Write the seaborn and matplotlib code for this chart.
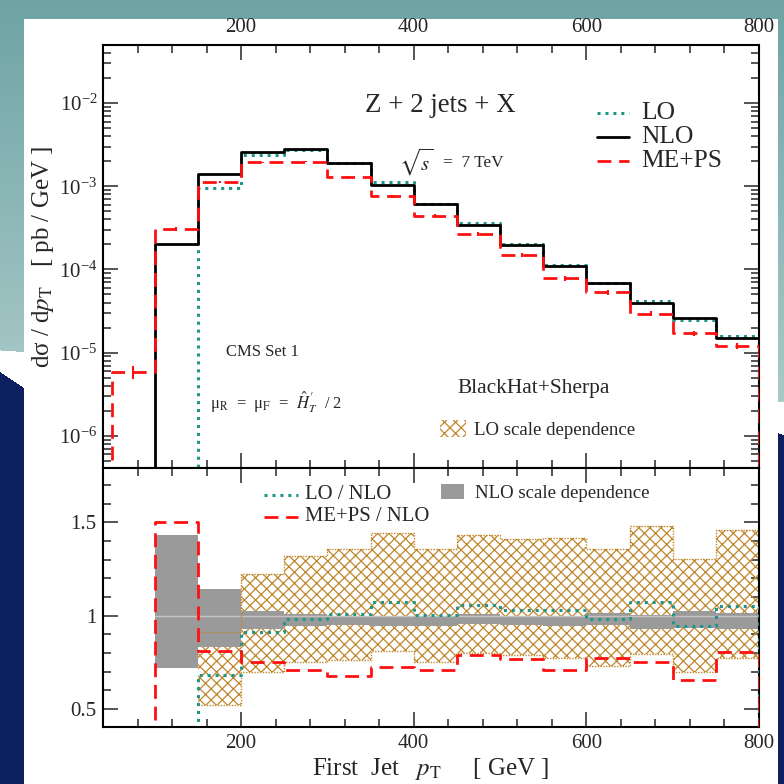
import numpy as np
import matplotlib
matplotlib.use("Agg")
import matplotlib.pyplot as plt
import seaborn as sns
from matplotlib.lines import Line2D
from matplotlib.patches import Patch
from matplotlib.ticker import MultipleLocator, LogLocator, NullFormatter, FormatStrFormatter

# ---------------- data ----------------
bin_edges = [50, 100, 150, 200, 250, 300, 350, 400, 450, 500, 550, 600, 650, 700, 750, 800]
nlo = [0.0, 2.03e-4, 1.39e-3, 2.58e-3, 2.80e-3, 1.90e-3, 1.05e-3, 6.20e-4, 3.39e-4,
       1.95e-4, 1.10e-4, 6.90e-5, 3.92e-5, 2.59e-5, 1.50e-5]
lo = [0.0, 0.0, 9.45e-4, 2.354e-3, 2.755e-3, 1.921e-3, 1.125e-3, 6.21e-4, 3.58e-4,
      2.01e-4, 1.135e-4, 6.78e-5, 4.21e-5, 2.45e-5, 1.575e-5]
meps = [5.8e-6, 3.05e-4, 1.13e-3, 1.94e-3, 1.98e-3, 1.29e-3, 7.63e-4, 4.41e-4, 2.68e-4,
        1.50e-4, 7.82e-5, 5.35e-5, 2.94e-5, 1.70e-5, 1.21e-5]
meps_relerr = [0.18, 0.06, 0.03, 0.02, 0.02, 0.03, 0.04, 0.04, 0.05, 0.05, 0.06, 0.07,
               0.07, 0.08, 0.09]
# LO scale band (ratio to NLO), bins 150..800
lo_band_low = [0.523, 0.698, 0.750, 0.760, 0.809, 0.750, 0.800, 0.791, 0.773, 0.729,
               0.796, 0.698, 0.773]
lo_band_high = [0.910, 1.223, 1.321, 1.359, 1.443, 1.359, 1.434, 1.412, 1.416, 1.354,
                1.479, 1.305, 1.457]
# NLO scale band (ratio to NLO), bins 100..800
nlo_band_low = [0.72, 0.83, 0.929, 0.943, 0.950, 0.943, 0.946, 0.957, 0.952, 0.946,
                0.952, 0.929, 0.934, 0.929]
nlo_band_high = [1.43, 1.145, 1.025, 1.009, 1.000, 1.000, 0.998, 1.007, 1.000, 0.998,
                 1.014, 1.005, 1.023, 1.014]

top_labels = ["LO", "NLO", "ME+PS"]
ratio_labels = ["LO / NLO", "ME+PS / NLO"]

# ---------------- style ----------------
sns.set_style("ticks")
plt.rcParams["font.family"] = ["Liberation Serif", "DejaVu Serif"]
plt.rcParams["mathtext.fontset"] = "stix"
plt.rcParams["hatch.linewidth"] = 0.9
GOLD = "#bf872c"
TEAL = "#1f968b"
RED = "#ff1010"
GREY = "#9a9a9a"
HATCH = "xxx"
plt.rcParams["hatch.color"] = GOLD
LO_STYLE = dict(color=TEAL, linewidth=2.2, linestyle=(0, (1.0, 1.6)))
NLO_STYLE = dict(color="black", linewidth=2.0, linestyle="-")
ME_STYLE = dict(color=RED, linewidth=2.0, linestyle=(0, (5, 2.8)))

edges = np.array(bin_edges, float)
centers = 0.5 * (edges[:-1] + edges[1:])
nlo_a = np.array(nlo)
lo_a = np.array(lo)
meps_a = np.array(meps)

fig = plt.figure(figsize=(7.84, 7.84), dpi=100)
fig.patch.set_facecolor("white")

# ---------------- slide-like background ----------------
H = W = 784
yy, xx = np.mgrid[0:H, 0:W].astype(float)
t = np.clip(yy / 400.0, 0, 1)[..., None]
teal_bg = (1 - t) * np.array([110, 164, 164]) + t * np.array([170, 201, 201])
bg = np.full((H, W, 3), 255.0)
teal_bottom = 350 + 52 * xx / 784
navy_top = np.where(xx < 392, 372 + 16 * xx / 24, 433 + (xx - 778) / 3)
mask_t = yy < teal_bottom
bg[mask_t] = teal_bg[mask_t]
bg[yy >= navy_top] = np.array([12, 32, 96])
bg[19:, 24:778] = 255
fig.figimage(bg.astype(np.uint8), xo=0, yo=0, origin="upper", zorder=-10)

ax1 = fig.add_axes([103 / 784, 1 - 468 / 784, 656 / 784, 423 / 784])
ax2 = fig.add_axes([103 / 784, 1 - 727 / 784, 656 / 784, 259 / 784])
for ax in (ax1, ax2):
    ax.set_zorder(5)
    ax.set_facecolor("white")
    for s in ax.spines.values():
        s.set_linewidth(1.5)
        s.set_color("black")


def step_xy(vals):
    x = np.r_[edges[0], edges]
    y = np.r_[0.0, vals, 0.0]
    return x, y


def manual_legend(ax, labels, styles, x0, x1, xt, ys, fontsize):
    for lab, st, yv in zip(labels, styles, ys):
        ax.add_line(Line2D([x0, x1], [yv, yv], transform=ax.transAxes,
                           clip_on=False, **st))
        ax.text(xt, yv, lab, transform=ax.transAxes, fontsize=fontsize,
                ha="left", va="center")


# ---------------- top panel ----------------
for vals, st, z in ((lo_a, LO_STYLE, 3), (nlo_a, NLO_STYLE, 4), (meps_a, ME_STYLE, 5)):
    x, y = step_xy(vals)
    sns.lineplot(x=x, y=y, ax=ax1, estimator=None, sort=False,
                 drawstyle="steps-post", zorder=z, **st)
ax1.set_yscale("log", nonpositive="clip")
ax1.errorbar(centers, meps_a, yerr=meps_a * np.array(meps_relerr), fmt="none",
             ecolor=RED, elinewidth=1.5, capsize=0, zorder=5)
ax1.set_xlim(40, 800)
ax1.set_ylim(4.1e-7, 5.0e-2)
ax1.set_xlabel("")
ax1.set_ylabel("dσ / d$p_{\\rm T}$   [ pb / GeV ]", fontsize=18, labelpad=2)

ax1.xaxis.set_major_locator(MultipleLocator(200))
ax1.xaxis.set_minor_locator(MultipleLocator(40))
ax1.yaxis.set_major_locator(LogLocator(base=10, numticks=20))
ax1.yaxis.set_minor_locator(LogLocator(base=10, subs=np.arange(2, 10), numticks=50))
ax1.yaxis.set_minor_formatter(NullFormatter())
ax1.tick_params(axis="x", which="both", top=True, bottom=True, labeltop=True,
                labelbottom=False, direction="in")
ax1.tick_params(axis="y", which="both", left=True, right=True, direction="in")
ax1.tick_params(which="major", length=11, width=1.1, labelsize=15, pad=6)
ax1.tick_params(which="minor", length=5.5, width=1.1)
ax1.tick_params(axis="y", which="major", labelsize=15, pad=4)

# texts
ax1.text(0.399, 0.858, "Z + 2 jets + X", transform=ax1.transAxes, fontsize=19.4,
         ha="left", va="center")
ax1.text(0.451, 0.723, r"$\sqrt{s}$", transform=ax1.transAxes, fontsize=15,
         ha="left", va="center")
ax1.text(0.518, 0.721, "=  7 TeV", transform=ax1.transAxes, fontsize=12.4,
         ha="left", va="center")
ax1.text(0.1875, 0.274, "CMS Set 1", transform=ax1.transAxes, fontsize=12,
         ha="left", va="center")
ax1.text(0.163, 0.156, r"μ$_{\rm R}$  =  μ$_{\rm F}$  =  $\hat{H}_T^{\,\prime}$  / 2",
         transform=ax1.transAxes, fontsize=12, ha="left", va="center")
ax1.text(0.541, 0.187, "BlackHat+Sherpa", transform=ax1.transAxes, fontsize=15.4,
         ha="left", va="center")

manual_legend(ax1, top_labels, [LO_STYLE, NLO_STYLE, ME_STYLE],
              0.753, 0.802, 0.820, [0.839, 0.783, 0.726], 18.4)
ax1.legend([Patch(facecolor="none", edgecolor=GOLD, hatch=HATCH, linewidth=0)],
           ["LO scale dependence"], loc="upper left",
           bbox_to_anchor=(0.514, 0.114), frameon=False, fontsize=13.6,
           handlelength=1.38, handleheight=1.06, handletextpad=0.42,
           borderaxespad=0, borderpad=0)

# ---------------- ratio panel ----------------
r_lo = np.where(nlo_a > 0, lo_a / np.where(nlo_a > 0, nlo_a, 1), 0.0)
r_meps = np.where(nlo_a > 0, meps_a / np.where(nlo_a > 0, nlo_a, 1), 0.0)

xb = edges[2:]
lo_l = np.r_[lo_band_low, lo_band_low[-1]]
lo_h = np.r_[lo_band_high, lo_band_high[-1]]
ax2.fill_between(xb, lo_l, lo_h, step="post", facecolor="none", edgecolor=GOLD,
                 hatch=HATCH, linewidth=0, zorder=1)
xn = edges[1:]
ax2.fill_between(xn, np.r_[nlo_band_low, nlo_band_low[-1]],
                 np.r_[nlo_band_high, nlo_band_high[-1]], step="post",
                 facecolor=GREY, edgecolor="none", linewidth=0, zorder=2)
ax2.plot(xb, lo_l, drawstyle="steps-post", color=GOLD, lw=1.0, ls=(0, (1, 1)), zorder=2.3)
ax2.plot(xb, lo_h, drawstyle="steps-post", color=GOLD, lw=1.0, ls=(0, (1, 1)), zorder=2.3)
ax2.plot([edges[1], edges[-1]], [1, 1], color="#c4c4c4", lw=1.0, zorder=2.2)

for vals, st, z in ((r_lo, LO_STYLE, 3), (r_meps, ME_STYLE, 5)):
    x, y = step_xy(vals)
    sns.lineplot(x=x, y=y, ax=ax2, estimator=None, sort=False,
                 drawstyle="steps-post", zorder=z, **st)

ax2.set_xlim(40, 800)
ax2.set_ylim(0.404, 1.79)
ax2.xaxis.set_major_locator(MultipleLocator(200))
ax2.xaxis.set_minor_locator(MultipleLocator(40))
ax2.yaxis.set_major_locator(MultipleLocator(0.5))
ax2.yaxis.set_minor_locator(MultipleLocator(0.1))
ax2.yaxis.set_major_formatter(FormatStrFormatter("%g"))
ax2.tick_params(axis="x", which="both", top=True, bottom=True, direction="in")
ax2.tick_params(axis="y", which="both", left=True, right=True, direction="in")
ax2.tick_params(which="major", length=11, width=1.1, labelsize=15, pad=5)
ax2.tick_params(which="minor", length=5.5, width=1.1)
ax2.set_xlabel("First  Jet   $p_{\\rm T}$     [ GeV ]", fontsize=18, labelpad=2)
ax2.set_ylabel("")

manual_legend(ax2, ratio_labels, [LO_STYLE, ME_STYLE],
              0.2454, 0.297, 0.308, [0.896, 0.811], 14.9)
ax2.legend([Patch(facecolor=GREY, edgecolor="none")], ["NLO scale dependence"],
           loc="upper left", bbox_to_anchor=(0.515, 0.937), frameon=False,
           fontsize=13.5, handlelength=1.23, handleheight=0.8, handletextpad=0.59,
           borderaxespad=0, borderpad=0)

fig.savefig("out.png", dpi=100)
